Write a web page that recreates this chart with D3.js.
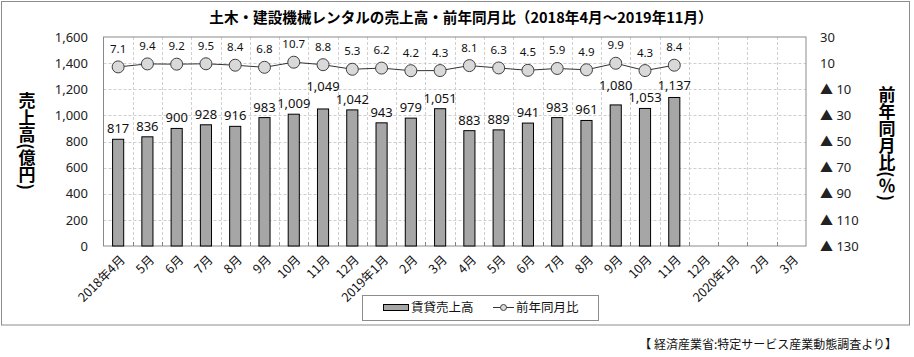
<!DOCTYPE html>
<html><head><meta charset="utf-8">
<script src="https://cdn.jsdelivr.net/npm/d3@7"></script>
<style>
html,body{margin:0;padding:0;background:#fff;}
svg{display:block;}
</style>
</head><body>
<svg id="chart" width="914" height="357"></svg>
<script>
const categories = ["2018年4月","5月","6月","7月","8月","9月","10月","11月","12月","2019年1月","2月","3月","4月","5月","6月","7月","8月","9月","10月","11月","12月","2020年1月","2月","3月"];
const salesValues = [817,836,900,928,916,983,1009,1049,1042,943,979,1051,883,889,941,983,961,1080,1053,1137];
const yoyValues = [7.1,9.4,9.2,9.5,8.4,6.8,10.7,8.8,5.3,6.2,4.2,4.3,8.1,6.3,4.5,5.9,4.9,9.9,4.3,8.4];
const leftTicks = [0,200,400,600,800,1000,1200,1400,1600];
const rightTicks = [-130,-110,-90,-70,-50,-30,-10,10,30];
const titleText = "土木・建設機械レンタルの売上高・前年同月比（2018年4月～2019年11月）";
const leftTitle = "売上高(億円)";
const rightTitle = "前年同月比(％)";
const legendLabels = ["賃貸売上高","前年同月比"];
const sourceText = "【 経済産業省:特定サービス産業動態調査より】";

const svg = d3.select("#chart");
const JP = "'Noto Sans CJK JP','Noto Sans',sans-serif";
const NUM = "'Noto Sans','Noto Sans CJK JP',sans-serif";

const L = 103.5, R = 806, T = 37, B = 246;
const idx = d3.range(categories.length);
const x = d3.scaleBand().domain(idx).range([L, R]).padding(0);
const cx = i => x(i) + x.bandwidth()/2;
const yL = d3.scaleLinear().domain([0,1600]).range([B, T]);
const yR = d3.scaleLinear().domain([-130,30]).range([B, T]);

// outer border
svg.append("rect").attr("x",1.5).attr("y",1.5).attr("width",908).attr("height",323.5)
  .attr("fill","#fff").attr("stroke","#8c8c8c").attr("stroke-width",1);

// title
svg.append("text").attr("x",461).attr("y",23).attr("text-anchor","middle")
  .attr("font-family",JP).attr("font-size",14.6).attr("font-weight","bold").attr("fill","#000")
  .text(titleText);

const g = svg.append("g");
// horizontal grid
g.selectAll(".hg").data(leftTicks.slice(1,-1)).join("line")
  .attr("x1",L).attr("x2",R).attr("y1",d=>Math.round(yL(d))+0.5).attr("y2",d=>Math.round(yL(d))+0.5)
  .attr("stroke","#cfcfcf").attr("stroke-dasharray","3,2");
// vertical grid at category boundaries
g.selectAll(".vg").data(idx.slice(1)).join("line")
  .attr("x1",d=>Math.round(x(d))+0.5).attr("x2",d=>Math.round(x(d))+0.5).attr("y1",T).attr("y2",B)
  .attr("stroke","#cfcfcf").attr("stroke-dasharray","3,2");
// bottom tick marks
g.selectAll(".bt").data(idx.slice(1)).join("line")
  .attr("x1",d=>Math.round(x(d))+0.5).attr("x2",d=>Math.round(x(d))+0.5).attr("y1",B-4).attr("y2",B)
  .attr("stroke","#808080");
// plot border
g.append("rect").attr("x",L).attr("y",T).attr("width",R-L).attr("height",B-T)
  .attr("fill","none").attr("stroke","#8a8a8a");

// bars
const bw = x.bandwidth()*0.38;
g.selectAll(".bar").data(salesValues).join("rect")
  .attr("x",(d,i)=>cx(i)-bw/2)
  .attr("y",d=>yL(d)).attr("width",bw).attr("height",d=>B-yL(d))
  .attr("fill","#a6a6a6").attr("stroke","#000").attr("stroke-width",1);

// bar labels with simple neighbour collision avoidance
const fmt = d3.format(",");
const labels = g.selectAll(".bl").data(salesValues).join("text")
  .attr("x",(d,i)=>cx(i)).attr("y",d=>yL(d)-6)
  .attr("text-anchor","middle").attr("font-family",NUM).attr("font-size",13).attr("fill","#111")
  .text(d=>fmt(d));
const info = [];
labels.each(function(d,i){ info.push({w:this.getComputedTextLength(), y:yL(d)-6, x:cx(i)}); });
for (let i=1;i<info.length;i++){
  const a=info[i-1], b=info[i];
  if (Math.abs(a.x-b.x) < (a.w+b.w)/2 + 1 && Math.abs(a.y-b.y) < 12.5){
    if (b.y <= a.y) b.y = a.y - 12.5; else a.y = b.y - 12.5;
  }
}
labels.attr("y",(d,i)=>info[i].y);

// line
const line = d3.line().x((d,i)=>cx(i)).y(d=>yR(d));
g.append("path").datum(yoyValues).attr("d",line).attr("fill","none").attr("stroke","#333").attr("stroke-width",1);
g.selectAll(".pt").data(yoyValues).join("circle")
  .attr("cx",(d,i)=>cx(i)).attr("cy",d=>yR(d)).attr("r",6)
  .attr("fill","#d9d9d9").attr("stroke","#404040").attr("stroke-width",1);
g.selectAll(".pl").data(yoyValues).join("text")
  .attr("x",(d,i)=>cx(i)).attr("y",d=>yR(d)-14)
  .attr("text-anchor","middle").attr("font-family",NUM).attr("font-size",11.5).attr("fill","#111")
  .text(d=>d.toFixed(1));

// left axis labels
svg.selectAll(".lt").data(leftTicks).join("text")
  .attr("x",88).attr("y",d=>yL(d)).attr("dy","0.36em").attr("text-anchor","end")
  .attr("font-family",NUM).attr("font-size",13).attr("fill","#222")
  .text(d=>fmt(d));
// right axis labels
svg.selectAll(".rt").data(rightTicks).join("text")
  .attr("x",820).attr("y",d=>yR(d)).attr("dy","0.36em").attr("text-anchor","start")
  .attr("font-family",NUM).attr("font-size",13).attr("fill","#222")
  .text(d=> d<0 ? "▲ "+(-d) : String(d));

// x labels
svg.selectAll(".xl").data(categories).join("text")
  .attr("transform",(d,i)=>`translate(${cx(i)+1},${B+8}) rotate(-45)`)
  .attr("text-anchor","end").attr("dy","0.75em")
  .attr("font-family",JP).attr("font-size",12.5).attr("fill","#111")
  .text(d=>d);

// axis titles (vertical)
svg.append("text").attr("x",27).attr("y",92)
  .style("writing-mode","vertical-rl").attr("font-family",JP).attr("font-size",17).attr("font-weight","bold")
  .attr("fill","#000").text(leftTitle);
svg.append("text").attr("x",887).attr("y",86)
  .style("writing-mode","vertical-rl").attr("font-family",JP).attr("font-size",17).attr("font-weight","bold")
  .attr("fill","#000").text(rightTitle);

// legend
const lg = svg.append("g");
lg.append("rect").attr("x",362.5).attr("y",295.5).attr("width",236).attr("height",25)
  .attr("fill","#fff").attr("stroke","#8c8c8c");
lg.append("rect").attr("x",383.5).attr("y",304.5).attr("width",25).attr("height",6)
  .attr("fill","#a6a6a6").attr("stroke","#000");
lg.append("text").attr("x",411).attr("y",308).attr("dy","0.35em")
  .attr("font-family",JP).attr("font-size",12.5).attr("fill","#111").text(legendLabels[0]);
lg.append("line").attr("x1",493).attr("x2",514).attr("y1",307.5).attr("y2",307.5).attr("stroke","#333");
lg.append("circle").attr("cx",503.5).attr("cy",307.5).attr("r",3).attr("fill","#d9d9d9").attr("stroke","#404040");
lg.append("text").attr("x",516).attr("y",308).attr("dy","0.35em")
  .attr("font-family",JP).attr("font-size",12.5).attr("fill","#111").text(legendLabels[1]);

// source
svg.append("text").attr("x",897).attr("y",345).attr("dy","0.35em").attr("text-anchor","end")
  .attr("font-family",JP).attr("font-size",12).attr("fill","#111").text(sourceText);
</script>
</body></html>
